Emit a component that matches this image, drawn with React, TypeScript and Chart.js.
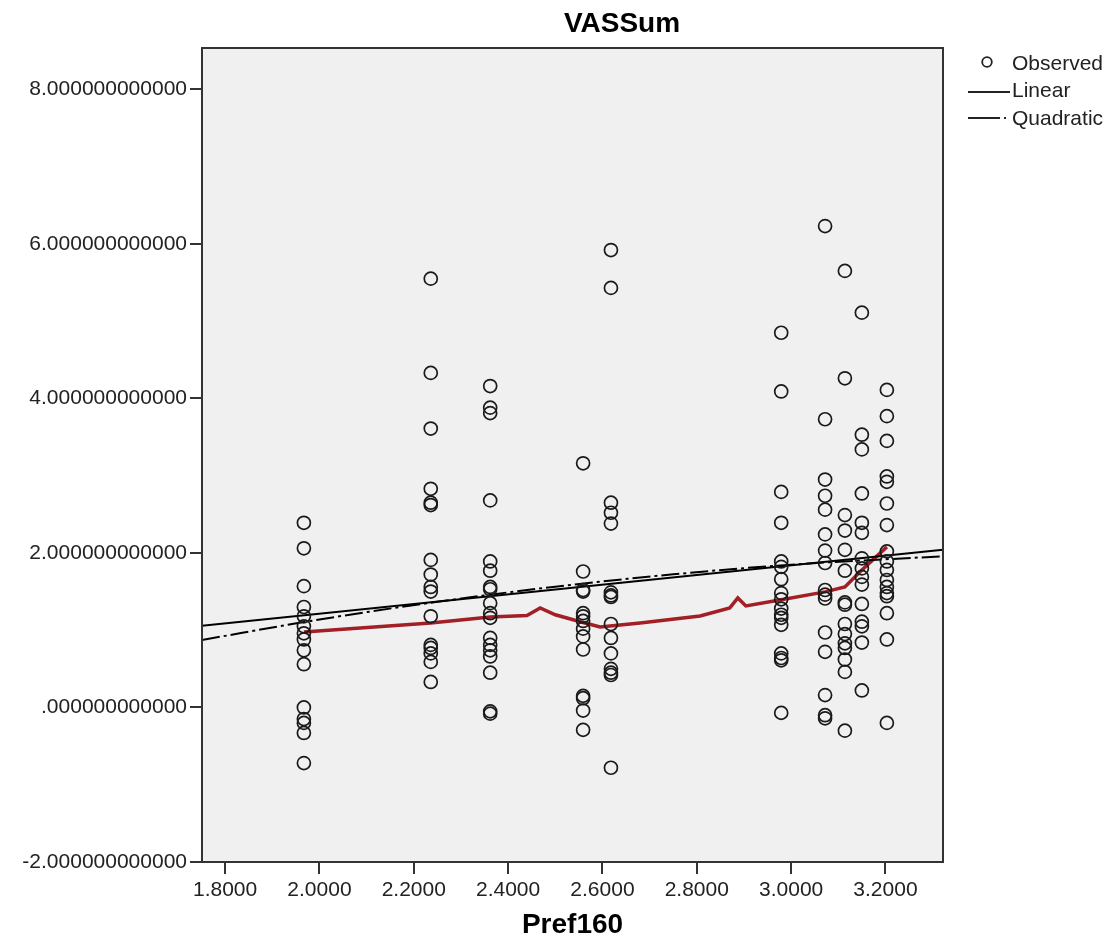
import React, { useEffect, useRef } from "react";
import { Chart, registerables } from "chart.js";

Chart.register(...registerables);

// Axis ticks
const xTicks = [1.8, 2.0, 2.2, 2.4, 2.6, 2.8, 3.0, 3.2];
const yTicks = [-2, 0, 2, 4, 6, 8];
const xMin = 1.751;
const xMax = 3.322;
const yMin = -2;
const yMax = 8.535;

// Observed values, one array per Pref160 value
const columnX = [1.967, 2.236, 2.362, 2.559, 2.618, 2.979, 3.072, 3.114, 3.15, 3.203];
const obsA = [2.39, 2.06, 1.57, 1.3, 1.18, 1.05, 0.96, 0.88, 0.74, 0.56, 0.0, -0.15, -0.2, -0.33, -0.72];
const obsB = [5.55, 4.33, 3.61, 2.83, 2.65, 2.62, 1.91, 1.72, 1.56, 1.5, 1.18, 0.81, 0.77, 0.7, 0.59, 0.33];
const obsC = [4.16, 3.88, 3.81, 2.68, 1.89, 1.77, 1.56, 1.53, 1.35, 1.22, 1.16, 0.9, 0.81, 0.74, 0.66, 0.45, -0.05, -0.08];
const obsD = [3.16, 1.76, 1.52, 1.5, 1.22, 1.18, 1.12, 1.02, 0.92, 0.75, 0.15, 0.12, -0.04, -0.29];
const obsE = [5.92, 5.43, 2.65, 2.52, 2.38, 1.49, 1.45, 1.43, 1.08, 0.9, 0.7, 0.5, 0.45, 0.42, -0.78];
const obsF = [4.85, 4.09, 2.79, 2.39, 1.89, 1.82, 1.66, 1.48, 1.4, 1.28, 1.2, 1.16, 1.07, 0.7, 0.64, 0.61, -0.07];
const obsG = [6.23, 3.73, 2.95, 2.74, 2.56, 2.24, 2.03, 1.87, 1.52, 1.46, 1.41, 0.97, 0.72, 0.16, -0.1, -0.14];
const obsH = [5.65, 4.26, 2.49, 2.29, 2.04, 1.77, 1.36, 1.33, 1.08, 0.95, 0.83, 0.77, 0.62, 0.46, -0.3];
const obsI = [5.11, 3.53, 3.34, 2.77, 2.39, 2.26, 1.93, 1.8, 1.69, 1.59, 1.34, 1.11, 1.05, 0.84, 0.22];
const obsJ = [4.11, 3.77, 3.45, 2.99, 2.92, 2.64, 2.36, 2.02, 1.89, 1.78, 1.65, 1.56, 1.48, 1.44, 1.22, 0.88, -0.2];
const observedColumns = [obsA, obsB, obsC, obsD, obsE, obsF, obsG, obsH, obsI, obsJ];

// Linear fit (at the plot edges)
const linearX = [1.751, 3.322];
const linearY = [1.056, 2.04];

// Quadratic fit
const quadX = [1.751, 2.0, 2.25, 2.5, 2.75, 3.0, 3.322];
const quadY = [0.874, 1.138, 1.368, 1.563, 1.723, 1.848, 1.957];

// Red smoother line
const redX = [1.967, 2.236, 2.362, 2.44, 2.468, 2.5, 2.559, 2.595, 2.68, 2.807, 2.87, 2.887, 2.904, 2.976, 3.072, 3.114, 3.15, 3.203];
const redY = [0.978, 1.094, 1.172, 1.19, 1.288, 1.2, 1.1, 1.042, 1.094, 1.185, 1.288, 1.418, 1.314, 1.392, 1.496, 1.56, 1.78, 2.078];

const W = 1109;
const H = 951;
const FONT = "'Liberation Sans', Arial, sans-serif";

export default function App() {
  const ref = useRef<HTMLCanvasElement | null>(null);

  useEffect(() => {
    if (!ref.current) return;
    const observed: { x: number; y: number }[] = [];
    observedColumns.forEach((col, i) => {
      col.forEach((v) => observed.push({ x: columnX[i], y: v }));
    });
    const toPts = (xs: number[], ys: number[]) => xs.map((x, i) => ({ x, y: ys[i] }));

    const frame = {
      id: "frame",
      beforeDatasetsDraw(chart: any) {
        const { ctx, chartArea: a } = chart;
        ctx.save();
        ctx.fillStyle = "#f0f0f0";
        ctx.fillRect(a.left, a.top, a.right - a.left, a.bottom - a.top);
        ctx.restore();
      },
      afterDraw(chart: any) {
        const { ctx, chartArea: a } = chart;
        ctx.save();
        ctx.strokeStyle = "#333";
        ctx.lineWidth = 2;
        ctx.strokeRect(a.left, a.top, a.right - a.left, a.bottom - a.top);
        // Title
        ctx.fillStyle = "#000";
        ctx.textAlign = "center";
        ctx.textBaseline = "middle";
        ctx.font = `bold 28px ${FONT}`;
        ctx.fillText("VASSum", 622, 24);
        // X axis title
        ctx.fillText("Pref160", (a.left + a.right) / 2, 925);
        // Legend
        ctx.font = `21px ${FONT}`;
        ctx.textAlign = "left";
        ctx.fillStyle = "#222";
        ctx.fillText("Observed", 1012, 64);
        ctx.fillText("Linear", 1012, 91);
        ctx.fillText("Quadratic", 1012, 119);
        ctx.strokeStyle = "#222";
        ctx.lineWidth = 1.8;
        ctx.beginPath();
        ctx.arc(987, 62, 4.8, 0, Math.PI * 2);
        ctx.stroke();
        ctx.lineWidth = 2;
        ctx.beginPath();
        ctx.moveTo(968, 92);
        ctx.lineTo(1010, 92);
        ctx.stroke();
        ctx.beginPath();
        ctx.moveTo(968, 118);
        ctx.lineTo(1000, 118);
        ctx.stroke();
        ctx.fillRect(1004, 117, 2, 2);
        ctx.restore();
      },
    };

    const axisCommon = {
      border: { display: true, color: "#333", width: 2 },
      grid: { drawOnChartArea: false, drawTicks: true, tickLength: 12, color: "#333", lineWidth: 2 },
    };

    const chart = new Chart(ref.current, {
      type: "scatter",
      data: {
        datasets: [
          {
            label: "Observed",
            data: observed,
            pointStyle: "circle",
            pointRadius: 6.5,
            pointBorderWidth: 1.7,
            borderColor: "#1a1a1a",
            backgroundColor: "rgba(0,0,0,0)",
            showLine: false,
          },
          {
            label: "Linear",
            data: toPts(linearX, linearY),
            showLine: true,
            pointRadius: 0,
            borderColor: "#000",
            borderWidth: 2,
          },
          {
            label: "Quadratic",
            data: toPts(quadX, quadY),
            showLine: true,
            pointRadius: 0,
            borderColor: "#000",
            borderWidth: 2,
            borderDash: [18, 4, 3, 4],
            cubicInterpolationMode: "monotone",
          },
          {
            label: "Smoother",
            data: toPts(redX, redY),
            showLine: true,
            pointRadius: 0,
            borderColor: "#a21f26",
            borderWidth: 3.5,
            tension: 0,
          },
        ],
      },
      options: {
        responsive: false,
        animation: false,
        devicePixelRatio: 1,
        layout: { padding: { top: 48, right: 166, left: 0, bottom: 0 } },
        plugins: {
          legend: { display: false },
          title: { display: false },
          tooltip: { enabled: false },
        },
        scales: {
          x: {
            type: "linear",
            min: xMin,
            max: xMax,
            ...axisCommon,
            afterBuildTicks: (s: any) => {
              s.ticks = xTicks.map((v) => ({ value: v }));
            },
            afterFit: (s: any) => {
              s.height = 89;
            },
            ticks: {
              autoSkip: false,
              maxRotation: 0,
              padding: 4,
              color: "#222",
              font: { size: 21, family: FONT },
              callback: (v: any) => Number(v).toFixed(4),
            },
          },
          y: {
            type: "linear",
            min: yMin,
            max: yMax,
            ...axisCommon,
            afterBuildTicks: (s: any) => {
              s.ticks = yTicks.map((v) => ({ value: v }));
            },
            afterFit: (s: any) => {
              s.width = 202;
            },
            ticks: {
              autoSkip: false,
              padding: 3,
              color: "#222",
              font: { size: 21, family: FONT },
              callback: (v: any) => (Number(v) === 0 ? ".000000000000" : Number(v).toFixed(12)),
            },
          },
        },
      },
      plugins: [frame],
    } as any);

    return () => chart.destroy();
  }, []);

  return (
    <div style={{ position: "absolute", left: 0, top: 0, width: W, height: H, background: "#fff" }}>
      <canvas ref={ref} width={W} height={H} style={{ width: W, height: H, display: "block" }} />
    </div>
  );
}
